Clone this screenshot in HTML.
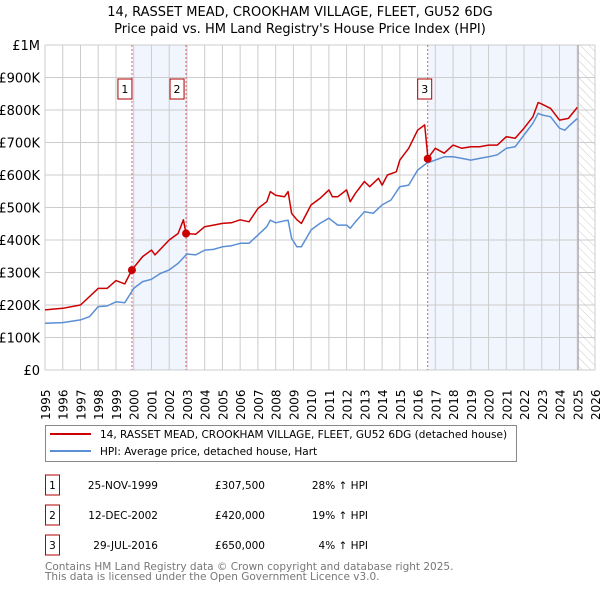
<!DOCTYPE html>
<html><head><meta charset="utf-8"><style>
body{margin:0;background:#fff;font-family:"DejaVu Sans","Liberation Sans",sans-serif}
svg{display:block}
</style></head><body>
<svg id="c" width="600" height="590" xmlns="http://www.w3.org/2000/svg">
<defs><pattern id="hatch" width="6" height="6" patternUnits="userSpaceOnUse" patternTransform="rotate(-45)"><line x1="0" y1="0" x2="0" y2="6" stroke="#ccc" stroke-width="1"/></pattern></defs>
<text x="300" y="16" text-anchor="middle" font-size="13">14, RASSET MEAD, CROOKHAM VILLAGE, FLEET, GU52 6DG</text>
<text x="300" y="33" text-anchor="middle" font-size="13">Price paid vs. HM Land Registry's House Price Index (HPI)</text>
<g id="plot"></g>
<g>
<rect x="45.5" y="425.5" width="471" height="36" fill="#fff" stroke="#888"/>
<line x1="50" y1="434" x2="91" y2="434" stroke="#cc0000" stroke-width="2"/>
<text x="100" y="438" font-size="10.5">14, RASSET MEAD, CROOKHAM VILLAGE, FLEET, GU52 6DG (detached house)</text>
<line x1="50" y1="451" x2="91" y2="451" stroke="#5b8fd4" stroke-width="2"/>
<text x="100" y="455" font-size="10.5">HPI: Average price, detached house, Hart</text>
</g>
<g id="table" font-size="10.5"></g>
<text x="45" y="570" font-size="10.5" fill="#777">Contains HM Land Registry data © Crown copyright and database right 2025.</text>
<text x="45" y="580" font-size="10.5" fill="#777">This data is licensed under the Open Government Licence v3.0.</text>
</svg>
<script>
const yTicks=[0,100,200,300,400,500,600,700,800,900,1000];
const yTickLabels=["£0","£100K","£200K","£300K","£400K","£500K","£600K","£700K","£800K","£900K","£1M"];
const xYears=[1995,1996,1997,1998,1999,2000,2001,2002,2003,2004,2005,2006,2007,2008,2009,2010,2011,2012,2013,2014,2015,2016,2017,2018,2019,2020,2021,2022,2023,2024,2025,2026];
const hpiT=[1995,1996,1997,1997.5,1998,1998.5,1999,1999.5,2000,2000.5,2001,2001.5,2002,2002.5,2003,2003.5,2004,2004.5,2005,2005.5,2006,2006.5,2007,2007.5,2007.7,2008,2008.5,2008.7,2008.9,2009.2,2009.45,2010,2010.5,2011,2011.5,2012,2012.2,2012.5,2013,2013.5,2014,2014.5,2015,2015.5,2016,2016.5,2017,2017.5,2018,2018.5,2019,2019.5,2020,2020.5,2021,2021.5,2022,2022.5,2022.8,2023,2023.5,2024,2024.3,2024.5,2025];
const hpiV=[144,146,154,164,195,197,210,207,251,272,279,297,308,328,357,354,369,371,379,382,390,390,415,441,461,453,459,461,405,379,379,431,451,467,446,446,436,456,487,482,508,523,564,569,615,636,646,656,656,651,646,651,656,662,682,687,723,759,790,785,779,744,738,749,774];
const propT=[1995,1996,1997,1998,1998.5,1999,1999.5,1999.9,2000.5,2001,2001.2,2002,2002.5,2002.8,2002.95,2003.5,2004,2004.5,2005,2005.5,2006,2006.5,2007,2007.5,2007.7,2008,2008.5,2008.7,2008.9,2009.2,2009.45,2010,2010.5,2011,2011.2,2011.5,2012,2012.2,2012.5,2013,2013.3,2013.8,2014,2014.3,2014.8,2015,2015.5,2016,2016.4,2016.55,2016.57,2017,2017.5,2018,2018.5,2019,2019.5,2020,2020.5,2021,2021.5,2022,2022.5,2022.8,2023,2023.5,2024,2024.5,2025];
const propV=[185,190,200,251,251,275,265,308,349,369,354,400,420,462,420,418,441,446,451,453,462,456,497,518,549,538,533,549,482,462,451,508,528,554,533,533,554,518,544,580,564,590,569,600,610,646,682,738,754,672,651,682,667,692,682,687,687,692,692,718,713,744,779,823,818,805,769,774,808];
const saleT=[1999.9,2002.95,2016.57];
const saleV=[307.5,420,650];
const saleLabels=["1","2","3"];
const saleDates=["25-NOV-1999","12-DEC-2002","29-JUL-2016"];
const salePrices=["£307,500","£420,000","£650,000"];
const saleDiffs=["28% ↑ HPI","19% ↑ HPI","4% ↑ HPI"];

const X0=45,X1=595,Y0=370,Y1=45;
const xs=t=>X0+(t-1995)*(X1-X0)/31;
const ys=v=>Y0-v*(Y0-Y1)/1000;
const NS="http://www.w3.org/2000/svg";
const plot=document.getElementById('plot');
function mk(tag,attrs,parent){const e=document.createElementNS(NS,tag);for(const k in attrs)e.setAttribute(k,attrs[k]);(parent||plot).appendChild(e);return e;}

let e;
e=mk('rect',{x:xs(saleT[0]),y:Y1,width:xs(saleT[1])-xs(saleT[0]),height:Y0-Y1,fill:'#eef3fc',opacity:0.8});


e=mk('rect',{x:xs(saleT[2]),y:Y1,width:xs(2025)-xs(saleT[2]),height:Y0-Y1,fill:'#eef3fc',opacity:0.8});


e=mk('rect',{x:xs(2025.05),y:Y1,width:X1-xs(2025.05),height:Y0-Y1,fill:'url(#hatch)'});



yTicks.forEach((v,i)=>{
  e=mk('line',{x1:X0,x2:X1,y1:ys(v),y2:ys(v),stroke:'#ccc','stroke-width':1});
  
  
  e=mk('text',{x:X0-5,y:ys(v)+5,'text-anchor':'end','font-size':13});
  e.textContent=yTickLabels[i];
  
  
});
xYears.forEach(yr=>{
  e=mk('line',{x1:xs(yr),x2:xs(yr),y1:Y1,y2:Y0,stroke:'#ccc','stroke-width':1});
  
  
  e=mk('text',{x:0,y:0,'font-size':12,transform:`translate(${xs(yr)+5},${Y0+50}) rotate(-90)`});
  e.textContent=yr;
  
  
});
e=mk('line',{x1:xs(2025.05),x2:xs(2025.05),y1:Y1,y2:Y0,stroke:'#999','stroke-width':1});



saleT.forEach((t,i)=>{
  e=mk('line',{x1:xs(t),x2:xs(t),y1:Y1,y2:Y0,stroke:'#e06070','stroke-width':1,'stroke-dasharray':'2,2'});
  
  
  const g=mk('g',{});
  
  
  const lx=i==2?xs(t)-10:xs(t)-14+(i==0?0:-2);
  mk('rect',{x:lx,y:79,width:14,height:20,fill:'#fff',stroke:'#b00000'},g);
  const tx=mk('text',{x:lx+7,y:93,'text-anchor':'middle','font-size':11},g);
  tx.textContent=saleLabels[i];
});

function path(T,V,color,name){
  const d=T.map((t,i)=>(i?'L':'M')+xs(t).toFixed(1)+','+ys(V[i]).toFixed(1)).join('');
  const p=mk('path',{d:d,fill:'none',stroke:color,'stroke-width':1.5,'stroke-linejoin':'round'});
  
  
}
path(hpiT,hpiV,'#5b8fd4','hpi-line');
path(propT,propV,'#cc0000','property-line');
saleT.forEach((t,i)=>{
  e=mk('circle',{cx:xs(t),cy:ys(saleV[i]),r:4,fill:'#cc0000'});
  
  
});

const tbl=document.getElementById('table');
saleLabels.forEach((l,i)=>{
  const y=485+i*30;
  e=mk('rect',{x:45.5,y:y-10,width:14,height:20,fill:'#fff',stroke:'#b00000'},tbl);
  
  
  const cells=[[52.5,l,'middle'],[158,saleDates[i],'end'],[265,salePrices[i],'end'],[368,saleDiffs[i],'end']];
  cells.forEach(c=>{
    e=mk('text',{x:c[0],y:y+4,'text-anchor':c[2],'font-size':10.5},tbl);
    e.textContent=c[1];
    
    
  });
});
</script>
</body></html>
